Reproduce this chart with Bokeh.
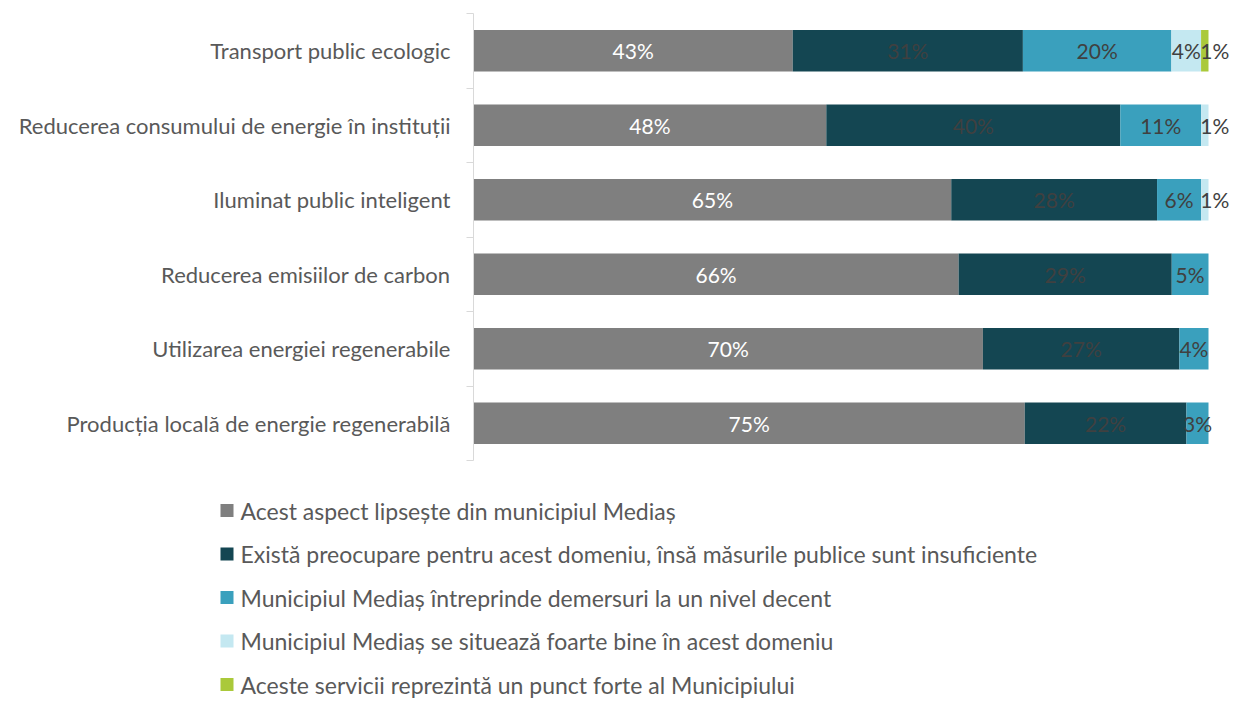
from bokeh.plotting import figure
from bokeh.models import Range1d, FixedTicker, ColumnDataSource
from bokeh.core.properties import value
from bokeh.embed import file_html
from bokeh.resources import INLINE

categories = [
    "Transport public ecologic",
    "Reducerea consumului de energie în instituții",
    "Iluminat public inteligent",
    "Reducerea emisiilor de carbon",
    "Utilizarea energiei regenerabile",
    "Producția locală de energie regenerabilă",
]
series_names = [
    "Acest aspect lipsește din municipiul Mediaș",
    "Există preocupare pentru acest domeniu, însă măsurile publice sunt insuficiente",
    "Municipiul Mediaș întreprinde demersuri la un nivel decent",
    "Municipiul Mediaș se situează foarte bine în acest domeniu",
    "Aceste servicii reprezintă un punct forte al Municipiului",
]
lipseste = [43, 48, 65, 66, 70, 75]
insuficiente = [31, 40, 28, 29, 27, 22]
decent = [20, 11, 6, 5, 4, 3]
foarte_bine = [4, 1, 1, 0, 0, 0]
punct_forte = [1, 0, 0, 0, 0, 0]
series_values = [lipseste, insuficiente, decent, foarte_bine, punct_forte]

colors = ["#7f7f7f", "#144652", "#3aa0bd", "#c4e8f1", "#aac93a"]
label_colors = ["#ffffff", "#404040", "#404040", "#404040", "#404040"]

FONT = "Lato"
FS_CAT = "22px"
FS_LBL = "21px"
FS_LEG = "23px"
TEXT_COLOR = "#595959"

W = 1236
H1 = 466
H2 = 234
FRAME_L, FRAME_R, FRAME_T, FRAME_B = 473, 1234, 13, 460
PX_PER_100 = 735.0
LEG_X, LEG_Y0, LEG_STEP, LEG_BOX, LEG_GAP = 220, 44, 43.5, 13, 7

n = len(categories)
ypos = [n - 0.5 - i for i in range(n)]
totals = [sum(v) for v in zip(*series_values)]

x_end = (FRAME_R - FRAME_L) / PX_PER_100 * 100
p = figure(width=W, height=H1, output_backend="svg", toolbar_location=None,
           x_range=Range1d(0, x_end), y_range=Range1d(0, n),
           min_border_left=FRAME_L, min_border_right=W - FRAME_R,
           min_border_top=FRAME_T, min_border_bottom=H1 - FRAME_B)
p.outline_line_color = None
p.xgrid.visible = False
p.ygrid.visible = False
p.xaxis.visible = False
p.background_fill_color = None
p.border_fill_color = None

yax = p.yaxis[0]
yax.ticker = FixedTicker(ticks=ypos, minor_ticks=list(range(n + 1)))
yax.major_label_overrides = {y: c for y, c in zip(ypos, categories)}
yax.major_tick_line_color = None
yax.major_tick_out = 0
yax.major_tick_in = 0
yax.minor_tick_line_color = "#d9d9d9"
yax.minor_tick_out = 7
yax.minor_tick_in = 0
yax.axis_line_color = "#d9d9d9"
yax.major_label_standoff = 16
yax.major_label_text_font = FONT
yax.major_label_text_font_size = FS_CAT
yax.major_label_text_color = TEXT_COLOR

cum = [0.0] * n
for k, vals in enumerate(series_values):
    pct = [v / t * 100 for v, t in zip(vals, totals)]
    left = cum[:]
    right = [a + b for a, b in zip(cum, pct)]
    src = ColumnDataSource(dict(y=ypos, left=left, right=right))
    p.hbar(y="y", left="left", right="right", height=0.56, source=src,
           fill_color=colors[k], line_color=None)
    idx = [i for i in range(n) if vals[i] > 0]
    lsrc = ColumnDataSource(dict(
        x=[(left[i] + right[i]) / 2 for i in idx],
        y=[ypos[i] for i in idx],
        text=[f"{vals[i]}%" for i in idx],
        xoff=[10 if vals[i] <= 1 else 0 for i in idx],
    ))
    p.text(x="x", y="y", text="text", source=lsrc, x_offset="xoff",
           text_align="center", text_baseline="middle",
           text_font=value(FONT), text_font_size=FS_LBL, text_color=label_colors[k])
    cum = right

# legend figure (pixel-like ranges, y downward)
p2 = figure(width=W, height=H2, output_backend="svg", toolbar_location=None,
            x_range=Range1d(0, W), y_range=Range1d(H2, 0),
            min_border_left=0, min_border_right=0, min_border_top=0, min_border_bottom=0)
p2.outline_line_color = None
p2.xgrid.visible = False
p2.ygrid.visible = False
p2.xaxis.visible = False
p2.yaxis.visible = False
p2.background_fill_color = None
p2.border_fill_color = None

m = len(series_names)
leg_y = [LEG_Y0 + LEG_STEP * k for k in range(m)]
lsrc2 = ColumnDataSource(dict(
    x=[LEG_X + LEG_BOX / 2] * m, tx=[LEG_X + LEG_BOX + LEG_GAP] * m,
    y=leg_y, color=colors, text=series_names))
p2.rect(x="x", y="y", width=LEG_BOX, height=LEG_BOX, source=lsrc2,
        fill_color="color", line_color=None)
p2.text(x="tx", y="y", text="text", source=lsrc2, text_align="left",
        text_baseline="middle", text_font=value(FONT), text_font_size=FS_LEG,
        text_color=TEXT_COLOR)

open("out.html", "w").write(file_html([p, p2], INLINE))
